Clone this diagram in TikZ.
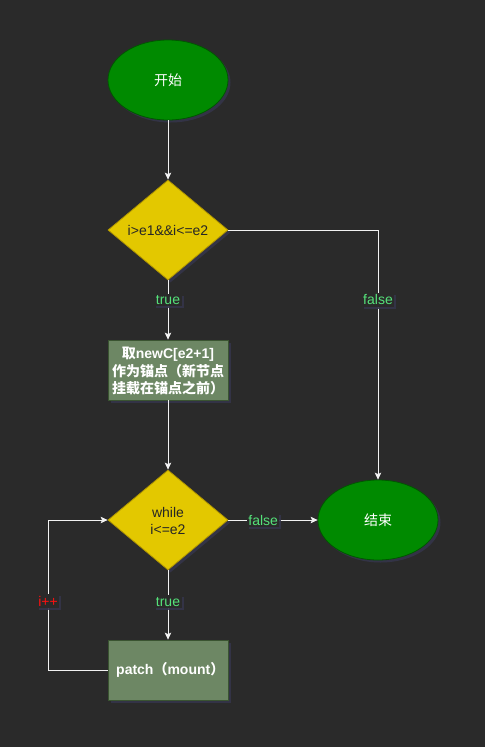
\documentclass[tikz,border=0pt]{standalone}
\usepackage{fontspec}
\setmainfont{Liberation Sans}
\newfontfamily\cjk{Noto Sans CJK SC}
\usetikzlibrary{arrows.meta,shapes.geometric,shadows}
\definecolor{bg}{HTML}{2A2A2A}
\definecolor{gfill}{HTML}{008A00}
\definecolor{gline}{HTML}{005700}
\definecolor{yfill}{HTML}{E3C800}
\definecolor{yline}{HTML}{B09500}
\definecolor{rfill}{HTML}{6D8764}
\definecolor{rline}{HTML}{3A5431}
\definecolor{lblgreen}{HTML}{55E27A}
\definecolor{lblred}{HTML}{FF1010}
\definecolor{shad}{HTML}{34344A}
\tikzset{
  base/.style={font=\fontsize{14}{17}\selectfont, inner sep=0pt, line width=0.8pt,
    drop shadow={shadow xshift=2.5pt, shadow yshift=-2.5pt, fill=shad, opacity=0.9}},
  terminal/.style={base, ellipse, draw=gline, fill=gfill, text=white,
    minimum width=120pt, minimum height=80pt},
  decision/.style={base, diamond, draw=yline, fill=yfill, text=black!85,
    minimum width=120pt, minimum height=100pt, aspect=1.2},
  process/.style={base, rectangle, draw=rline, fill=rfill, text=white,
    minimum width=120pt, minimum height=60pt},
  conn/.style={draw=white!95!black, line width=0.8pt, -{Stealth[length=7pt,width=6.5pt,inset=1.5pt]}},
  lbl/.style={font=\fontsize{14}{17}\selectfont, fill=bg, inner sep=1.5pt,
    drop shadow={shadow xshift=2pt, shadow yshift=-2pt, fill=shad, opacity=0.9}},
}
\begin{document}
\begin{tikzpicture}[x=1pt,y=-1pt]
\fill[bg] (0,0) rectangle (485,747);
\useasboundingbox (0,0) rectangle (485,747);

\node[terminal] (start) at (168,80) {\cjk 开始};
\node[decision] (d1) at (168,230) {};
\node[font=\fontsize{14}{17}\selectfont, text=black!85] (d1t) at (168,230) {i>e1\&\&i<=e2};
\node[process] (p1) at (168,370) {};
\node[font=\fontsize{14}{17.5}\selectfont\bfseries, text=white, align=center, inner sep=0pt] (p1t) at (168,371)
  {{\cjk 取}newC[e2+1]\\{\cjk 作为锚点（新节点}\\{\cjk 挂载在锚点之前）}};
\node[decision] (d2) at (168,520) {};
\node[font=\fontsize{14}{17}\selectfont, text=black!85, align=center, inner sep=0pt] (d2t) at (168,521) {while\\i<=e2};
\node[terminal] (end) at (378,520) {\cjk 结束};
\node[process] (p2) at (168,670) {};
\node[font=\fontsize{14}{17}\selectfont\bfseries, text=white, anchor=west, inner sep=0pt] (p2t) at (116,670) {patch{\cjk （}mount{\cjk ）}};

\coordinate (c1) at (378,230);
\coordinate (c2) at (48,670);
\coordinate (c3) at (48,520);

\draw[conn] (start) -- (d1.north);
\draw[conn] (d1.south) -- node[lbl, text=lblgreen, pos=0.33] {true} (p1.north);
\draw[conn] (d1.east) -- (c1) -- node[lbl, text=lblgreen, pos=0.28] {false} (end.north);
\draw[conn] (p1.south) -- (d2.north);
\draw[conn] (d2.east) -- node[lbl, text=lblgreen, pos=0.39] {false} (end.west);
\draw[conn] (d2.south) -- node[lbl, text=lblgreen, pos=0.45] {true} (p2.north);
\draw[conn] (p2.west) -- (c2) -- node[lbl, text=lblred, pos=0.46] {i++} (c3) -- (d2.west);
\end{tikzpicture}
\end{document}
